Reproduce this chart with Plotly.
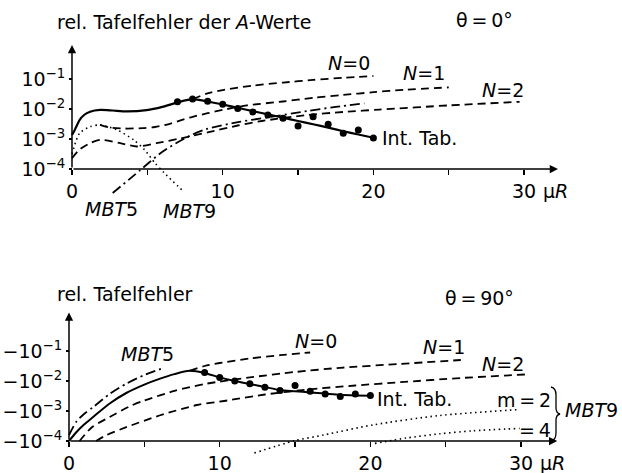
import numpy as np
import plotly.graph_objects as go

W, H = 622, 473
FONT = "DejaVu Sans"
FS = 19
TS = "\u2009"  # thin space

# ---------------- data (log10 of |relative table error|) ----------------
# upper panel, theta = 0 deg
top_solid_x = [0, 0.2, 0.5, 0.8, 1.2, 1.86, 2.7, 3.6, 4.95, 6, 7, 8, 9, 10, 11, 12, 13, 14, 15, 16, 17, 18, 19, 20]
top_solid_lg = [-2.87, -2.68, -2.37, -2.2, -2.09, -2.03, -2.05, -2.08, -2.04, -1.93, -1.78, -1.67, -1.75, -1.85,
                -1.96, -2.07, -2.18, -2.29, -2.4, -2.51, -2.62, -2.74, -2.85, -2.96]
top_dots_x = [7, 8, 9, 10, 11, 12, 13, 14, 15, 16, 17, 18, 19, 20]
top_dots_lg = [-1.76, -1.67, -1.74, -1.84, -1.98, -2.1, -2.2, -2.31, -2.57, -2.26, -2.51, -2.81, -2.7, -2.97]
top_n0_x = [8, 9, 10, 12, 14, 16, 18, 20]
top_n0_lg = [-1.67, -1.48, -1.37, -1.22, -1.12, -1.03, -0.96, -0.9]
top_n1_x = [1.86, 2.5, 3.5, 4.7, 5.5, 6.3, 7.2, 8, 9, 10, 11.6, 14, 16, 18, 20, 22, 25]
top_n1_lg = [-2.53, -2.62, -2.65, -2.64, -2.6, -2.52, -2.38, -2.26, -2.14, -2.03, -1.88, -1.75, -1.63, -1.53,
             -1.44, -1.36, -1.28]
top_n2_x = [0, 0.5, 1.2, 1.86, 3.2, 4.3, 5.6, 7.2, 9, 11, 12.6, 15.6, 18, 20.4, 25, 29.7]
top_n2_lg = [-3.64, -3.35, -3.14, -3.03, -3.14, -3.25, -3.14, -2.98, -2.78, -2.55, -2.4, -2.2, -2.1, -2.02,
             -1.88, -1.76]
top_mbt5_x = [2.7, 4.5, 5.8, 6.9, 8, 8.9, 11.1, 13, 15.6, 17.5, 19.4]
top_mbt5_lg = [-4.8, -4.05, -3.5, -3.14, -2.85, -2.67, -2.43, -2.28, -2.07, -1.93, -1.81]
top_mbt9_x = [0, 0.5, 1.2, 1.86, 3.0, 4.1, 4.8, 5.5, 6.1, 7.4]
top_mbt9_lg = [-3.5, -2.81, -2.59, -2.53, -2.7, -3.03, -3.35, -3.8, -4.12, -4.75]

# lower panel, theta = 90 deg (values are negative: -10^lg)
bot_solid_x = [0, 0.5, 1, 1.6, 2.7, 3.8, 5, 6, 7, 8, 9, 10, 11, 12, 13, 14, 15, 16, 17, 18, 19, 20]
bot_solid_lg = [-4.0, -3.7, -3.45, -3.2, -2.75, -2.4, -2.12, -1.93, -1.77, -1.66, -1.73, -1.88, -2.0, -2.1,
                -2.2, -2.3, -2.34, -2.38, -2.42, -2.46, -2.48, -2.49]
bot_dots_x = [9, 10, 11, 12, 13, 14, 15, 16, 17, 18, 19, 20]
bot_dots_lg = [-1.72, -1.88, -2.0, -2.09, -2.21, -2.32, -2.15, -2.34, -2.43, -2.52, -2.43, -2.48]
bot_mbt5_x = [0, 0.5, 1, 1.6, 2.7, 3.8, 5, 6.3]
bot_mbt5_lg = [-3.8, -3.35, -3.1, -2.87, -2.43, -2.09, -1.8, -1.56]
bot_n0_x = [8, 9, 10, 12, 14, 16]
bot_n0_lg = [-1.66, -1.5, -1.4, -1.25, -1.14, -1.05]
bot_n1_x = [0.7, 1.5, 2.7, 4, 5, 7, 9, 12, 15, 18, 22, 26]
bot_n1_lg = [-4.0, -3.55, -3.2, -2.85, -2.65, -2.33, -2.1, -1.88, -1.7, -1.56, -1.43, -1.3]
bot_n2_x = [1.8, 2.5, 3.8, 6, 8.5, 10.5, 13, 15.9, 19, 22, 26, 30.4]
bot_n2_lg = [-4.0, -3.8, -3.54, -3.15, -2.8, -2.65, -2.45, -2.28, -2.15, -2.04, -1.9, -1.78]
bot_m2_x = [12.3, 14.9, 16.9, 20.2, 24.6, 29.9]
bot_m2_lg = [-4.4, -4.0, -3.8, -3.46, -3.15, -2.95]
bot_m4_x = [20.3, 22.4, 24.6, 26.8, 29.9]
bot_m4_lg = [-4.08, -3.9, -3.76, -3.66, -3.58]

x_tickvals = [0, 5, 10, 15, 20, 25, 30]
x_ticktext = ["0", "", "10", "", "20", "", "30"]
y_tickvals = [1e-4, 1e-3, 1e-2, 1e-1]
top_yticktext = ["10<sup>−4</sup>", "10<sup>−3</sup>", "10<sup>−2</sup>", "10<sup>−1</sup>"]
bot_yticktext = ["−10<sup>−4</sup>", "−10<sup>−3</sup>", "−10<sup>−2</sup>", "−10<sup>−1</sup>"]

# ---------------- geometry (pixels) ----------------
PXU = 15.07   # px per x unit
PXD = 30.0    # px per decade
XR = [-0.5, 33.0]
panels = {
    "top": dict(x0=72, yax=169, yr=[-5.25, 0.35]),
    "bot": dict(x0=69, yax=441, yr=[-4.7, 0.45]),
}


def geom(p):
    left = p["x0"] + XR[0] * PXU
    right = p["x0"] + XR[1] * PXU
    bottom = p["yax"] - (p["yr"][0] + 4) * PXD
    top = p["yax"] - (p["yr"][1] + 4) * PXD
    return dict(xdom=[left / W, right / W], ydom=[1 - bottom / H, 1 - top / H],
                xpos=1 - p["yax"] / H, ypos=p["x0"] / W)


gt = geom(panels["top"])
gb = geom(panels["bot"])

fig = go.Figure()

DASH = "8px,5px"
DASHDOT = "10px,4px,2px,4px"
DOT = "1.5px,3.5px"


def add(x, lg, xa, ya, dash="solid", width=1.8, mode="lines", shape="spline"):
    y = np.power(10.0, np.array(lg))
    if mode == "markers":
        fig.add_trace(go.Scatter(x=x, y=y, mode="markers", xaxis=xa, yaxis=ya,
                                 marker=dict(color="black", size=7), showlegend=False, hoverinfo="skip"))
    else:
        fig.add_trace(go.Scatter(x=x, y=y, mode="lines", xaxis=xa, yaxis=ya,
                                 line=dict(color="black", width=width, dash=dash, shape=shape, smoothing=0.7),
                                 showlegend=False, hoverinfo="skip"))


# upper panel
add(top_solid_x, top_solid_lg, "x", "y", width=2.2)
add(top_dots_x, top_dots_lg, "x", "y", mode="markers")
add(top_n0_x, top_n0_lg, "x", "y", dash=DASH)
add(top_n1_x, top_n1_lg, "x", "y", dash=DASH)
add(top_n2_x, top_n2_lg, "x", "y", dash=DASH)
add(top_mbt5_x, top_mbt5_lg, "x", "y", dash=DASHDOT)
add(top_mbt9_x, top_mbt9_lg, "x", "y", dash=DOT, width=1.6)
# lower panel
add(bot_solid_x, bot_solid_lg, "x2", "y2", width=2.0)
add(bot_dots_x, bot_dots_lg, "x2", "y2", mode="markers")
add(bot_mbt5_x, bot_mbt5_lg, "x2", "y2", dash=DASHDOT)
add(bot_n0_x, bot_n0_lg, "x2", "y2", dash=DASH)
add(bot_n1_x, bot_n1_lg, "x2", "y2", dash=DASH)
add(bot_n2_x, bot_n2_lg, "x2", "y2", dash=DASH)
add(bot_m2_x, bot_m2_lg, "x2", "y2", dash=DOT, width=1.6)
add(bot_m4_x, bot_m4_lg, "x2", "y2", dash=DOT, width=1.6)

axfont = dict(family=FONT, size=FS, color="black")


def xaxis(g):
    return dict(domain=g["xdom"], range=XR, anchor="free", position=g["xpos"], showline=False,
                showgrid=False, zeroline=False, tickmode="array", tickvals=x_tickvals, ticktext=x_ticktext,
                ticks="outside", ticklen=5, tickwidth=1.3, tickcolor="black", tickfont=axfont,
                automargin=False, fixedrange=True)


def yaxis(g, p, txt):
    return dict(domain=g["ydom"], type="log", range=p["yr"], anchor="free", position=g["ypos"],
                showline=False, showgrid=False, zeroline=False, tickmode="array", tickvals=y_tickvals,
                ticktext=txt, ticks="outside", ticklen=3, tickwidth=1.3, tickcolor="black",
                tickfont=axfont, automargin=False, fixedrange=True)


fig.update_layout(
    width=W, height=H, margin=dict(l=0, r=0, t=0, b=0),
    paper_bgcolor="white", plot_bgcolor="rgba(0,0,0,0)",
    font=dict(family=FONT, size=FS, color="black"),
    xaxis=xaxis(gt), yaxis=yaxis(gt, panels["top"], top_yticktext),
    xaxis2=xaxis(gb), yaxis2=yaxis(gb, panels["bot"], bot_yticktext),
    hovermode=False,
)

ann = []


def arrow(xr, yr, x, y, ax, ay):
    ann.append(dict(xref=xr, yref=yr, axref=xr, ayref=yr, x=x, y=y, ax=ax, ay=ay, text="",
                    showarrow=True, arrowhead=2, arrowsize=1.1, arrowwidth=1.5, arrowcolor="black"))


arrow("x", "y", 32.25, -4, 0, -4)
arrow("x", "y", 0, 0.13, 0, -4)
arrow("x2", "y2", 32.4, -4, 0, -4)
arrow("x2", "y2", 0, 0.28, 0, -4)


def label(px, py, text, anchor="center", size=FS):
    ann.append(dict(xref="paper", yref="paper", x=px / W, y=1 - py / H, text=text, showarrow=False,
                    xanchor=anchor, yanchor="middle", font=dict(family=FONT, size=size, color="black")))


# upper panel texts
label(55, 22, "rel. Tafelfehler der <i>A</i>-Werte", "left")
label(484, 20, f"θ{TS}={TS}0°")
label(349, 63, "<i>N</i>=0")
label(424, 73, "<i>N</i>=1")
label(503, 90, "<i>N</i>=2")
label(380, 138, "Int. Tab.", "left")
label(111, 209, "<i>MBT</i>5")
label(189, 211, "<i>MBT</i>9")
label(541, 191, "μ<i>R</i>", "left")
# lower panel texts
label(55, 294, "rel. Tafelfehler", "left")
label(480, 298, f"θ{TS}={TS}90°")
label(147, 354, "<i>MBT</i>5")
label(316, 341, "<i>N</i>=0")
label(444, 347, "<i>N</i>=1")
label(503, 364, "<i>N</i>=2")
label(375, 399, "Int. Tab.", "left")
label(553, 400, f"m{TS}={TS}2", "right")
label(553, 430, f"={TS}4", "right")
label(563, 410, "<i>MBT</i>9", "left")
label(538, 463, "μ<i>R</i>", "left")

fig.update_layout(annotations=ann)


# brace "}" grouping m=2 / m=4
def P(px, py):
    return f"{px / W:.5f},{1 - py / H:.5f}"


brace = ("M " + P(551, 387) + " Q " + P(556, 388) + " " + P(556, 395) + " L " + P(556, 408)
         + " Q " + P(556, 413) + " " + P(560, 414) + " Q " + P(556, 415) + " " + P(556, 420)
         + " L " + P(556, 433) + " Q " + P(556, 440) + " " + P(551, 441))
fig.add_shape(type="path", xref="paper", yref="paper", path=brace, line=dict(color="black", width=1.3))

fig.write_html("out.html", config={"displayModeBar": False, "staticPlot": True},
               post_script="document.body.style.margin='0';document.body.style.padding='0';"
                           "document.documentElement.style.overflow='hidden';")
